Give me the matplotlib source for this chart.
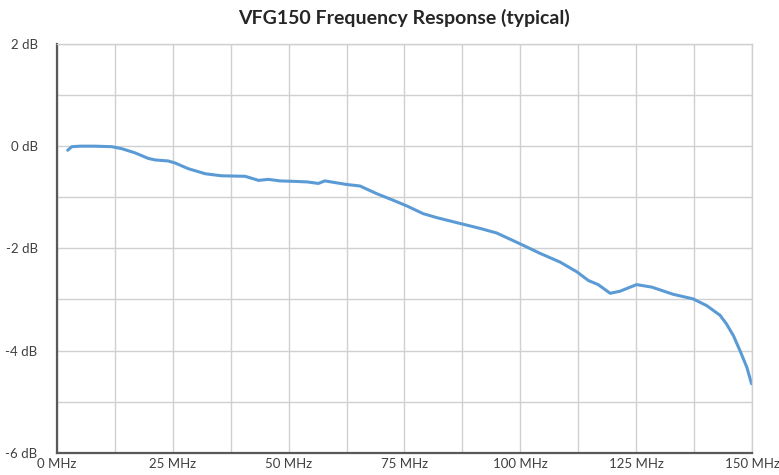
import numpy as np
import matplotlib.pyplot as plt

# Frequency response
freq_mhz = [2.3, 3.2, 5, 8, 11.8, 14, 16.8, 19.7, 21.2, 24, 25.5, 28.3, 32, 35.5,
            40.6, 43.5, 45.6, 48.1, 51.4, 54, 56.4, 57.8, 62.5, 65.4, 69, 72.6,
            75.5, 79, 82, 87.3, 91.3, 94.9, 99.9, 104.3, 108.6, 112.2, 114.7,
            116.8, 119.4, 121.5, 125.1, 128.4, 133, 137.3, 140.2, 143.1, 144.5,
            146.0, 147.4, 148.9, 149.9]
gain_db = [-0.08, -0.01, 0.0, 0.0, -0.01, -0.05, -0.13, -0.24, -0.27, -0.29, -0.33,
           -0.44, -0.54, -0.58, -0.59, -0.67, -0.65, -0.68, -0.69, -0.70, -0.73,
           -0.68, -0.75, -0.78, -0.93, -1.06, -1.17, -1.32, -1.40, -1.52, -1.61,
           -1.70, -1.91, -2.10, -2.27, -2.46, -2.63, -2.71, -2.88, -2.84, -2.71,
           -2.76, -2.90, -2.99, -3.12, -3.31, -3.48, -3.71, -4.0, -4.33, -4.65]

x_grid = np.arange(0, 150.1, 12.5)
x_labels = ['0 MHz' if v == 0 else f'{int(v)} MHz' if v % 25 == 0 else '' for v in x_grid]
y_ticks = [-6, -5, -4, -3, -2, -1, 0, 1, 2]
y_labels = [f'{v} dB' if v % 2 == 0 else '' for v in y_ticks]

plt.rcParams['font.family'] = ['Lato', 'DejaVu Sans']

fig = plt.figure(figsize=(7.79, 4.75), dpi=100)
ax = fig.add_axes([0.0732, 0.047, 0.8921, 0.8604])

ax.plot(freq_mhz, gain_db, color='#5b9bd5', linewidth=2.2,
        solid_capstyle='round', solid_joinstyle='round')

ax.set_xlim(0, 150)
ax.set_ylim(-6, 2)
ax.set_xticks(x_grid)
ax.set_xticklabels(x_labels)
ax.set_yticks(y_ticks)
ax.set_yticklabels(y_labels)
ax.grid(True, color='#d0d0d0', linewidth=1.0)
ax.set_axisbelow(True)
ax.tick_params(length=0, labelsize=9.5, colors='#404040')
ax.tick_params(axis='y', pad=14)
ax.tick_params(axis='x', pad=4)

for s in ['top', 'right']:
    ax.spines[s].set_color('#d0d0d0')
    ax.spines[s].set_linewidth(1.0)
for s in ['left', 'bottom']:
    ax.spines[s].set_color('#595959')
    ax.spines[s].set_linewidth(1.6)

fig.text(0.519, 0.962, 'VFG150 Frequency Response (typical)', ha='center', va='center',
         fontsize=14, fontweight='bold', color='#262626')

fig.savefig('out.png', dpi=100)
